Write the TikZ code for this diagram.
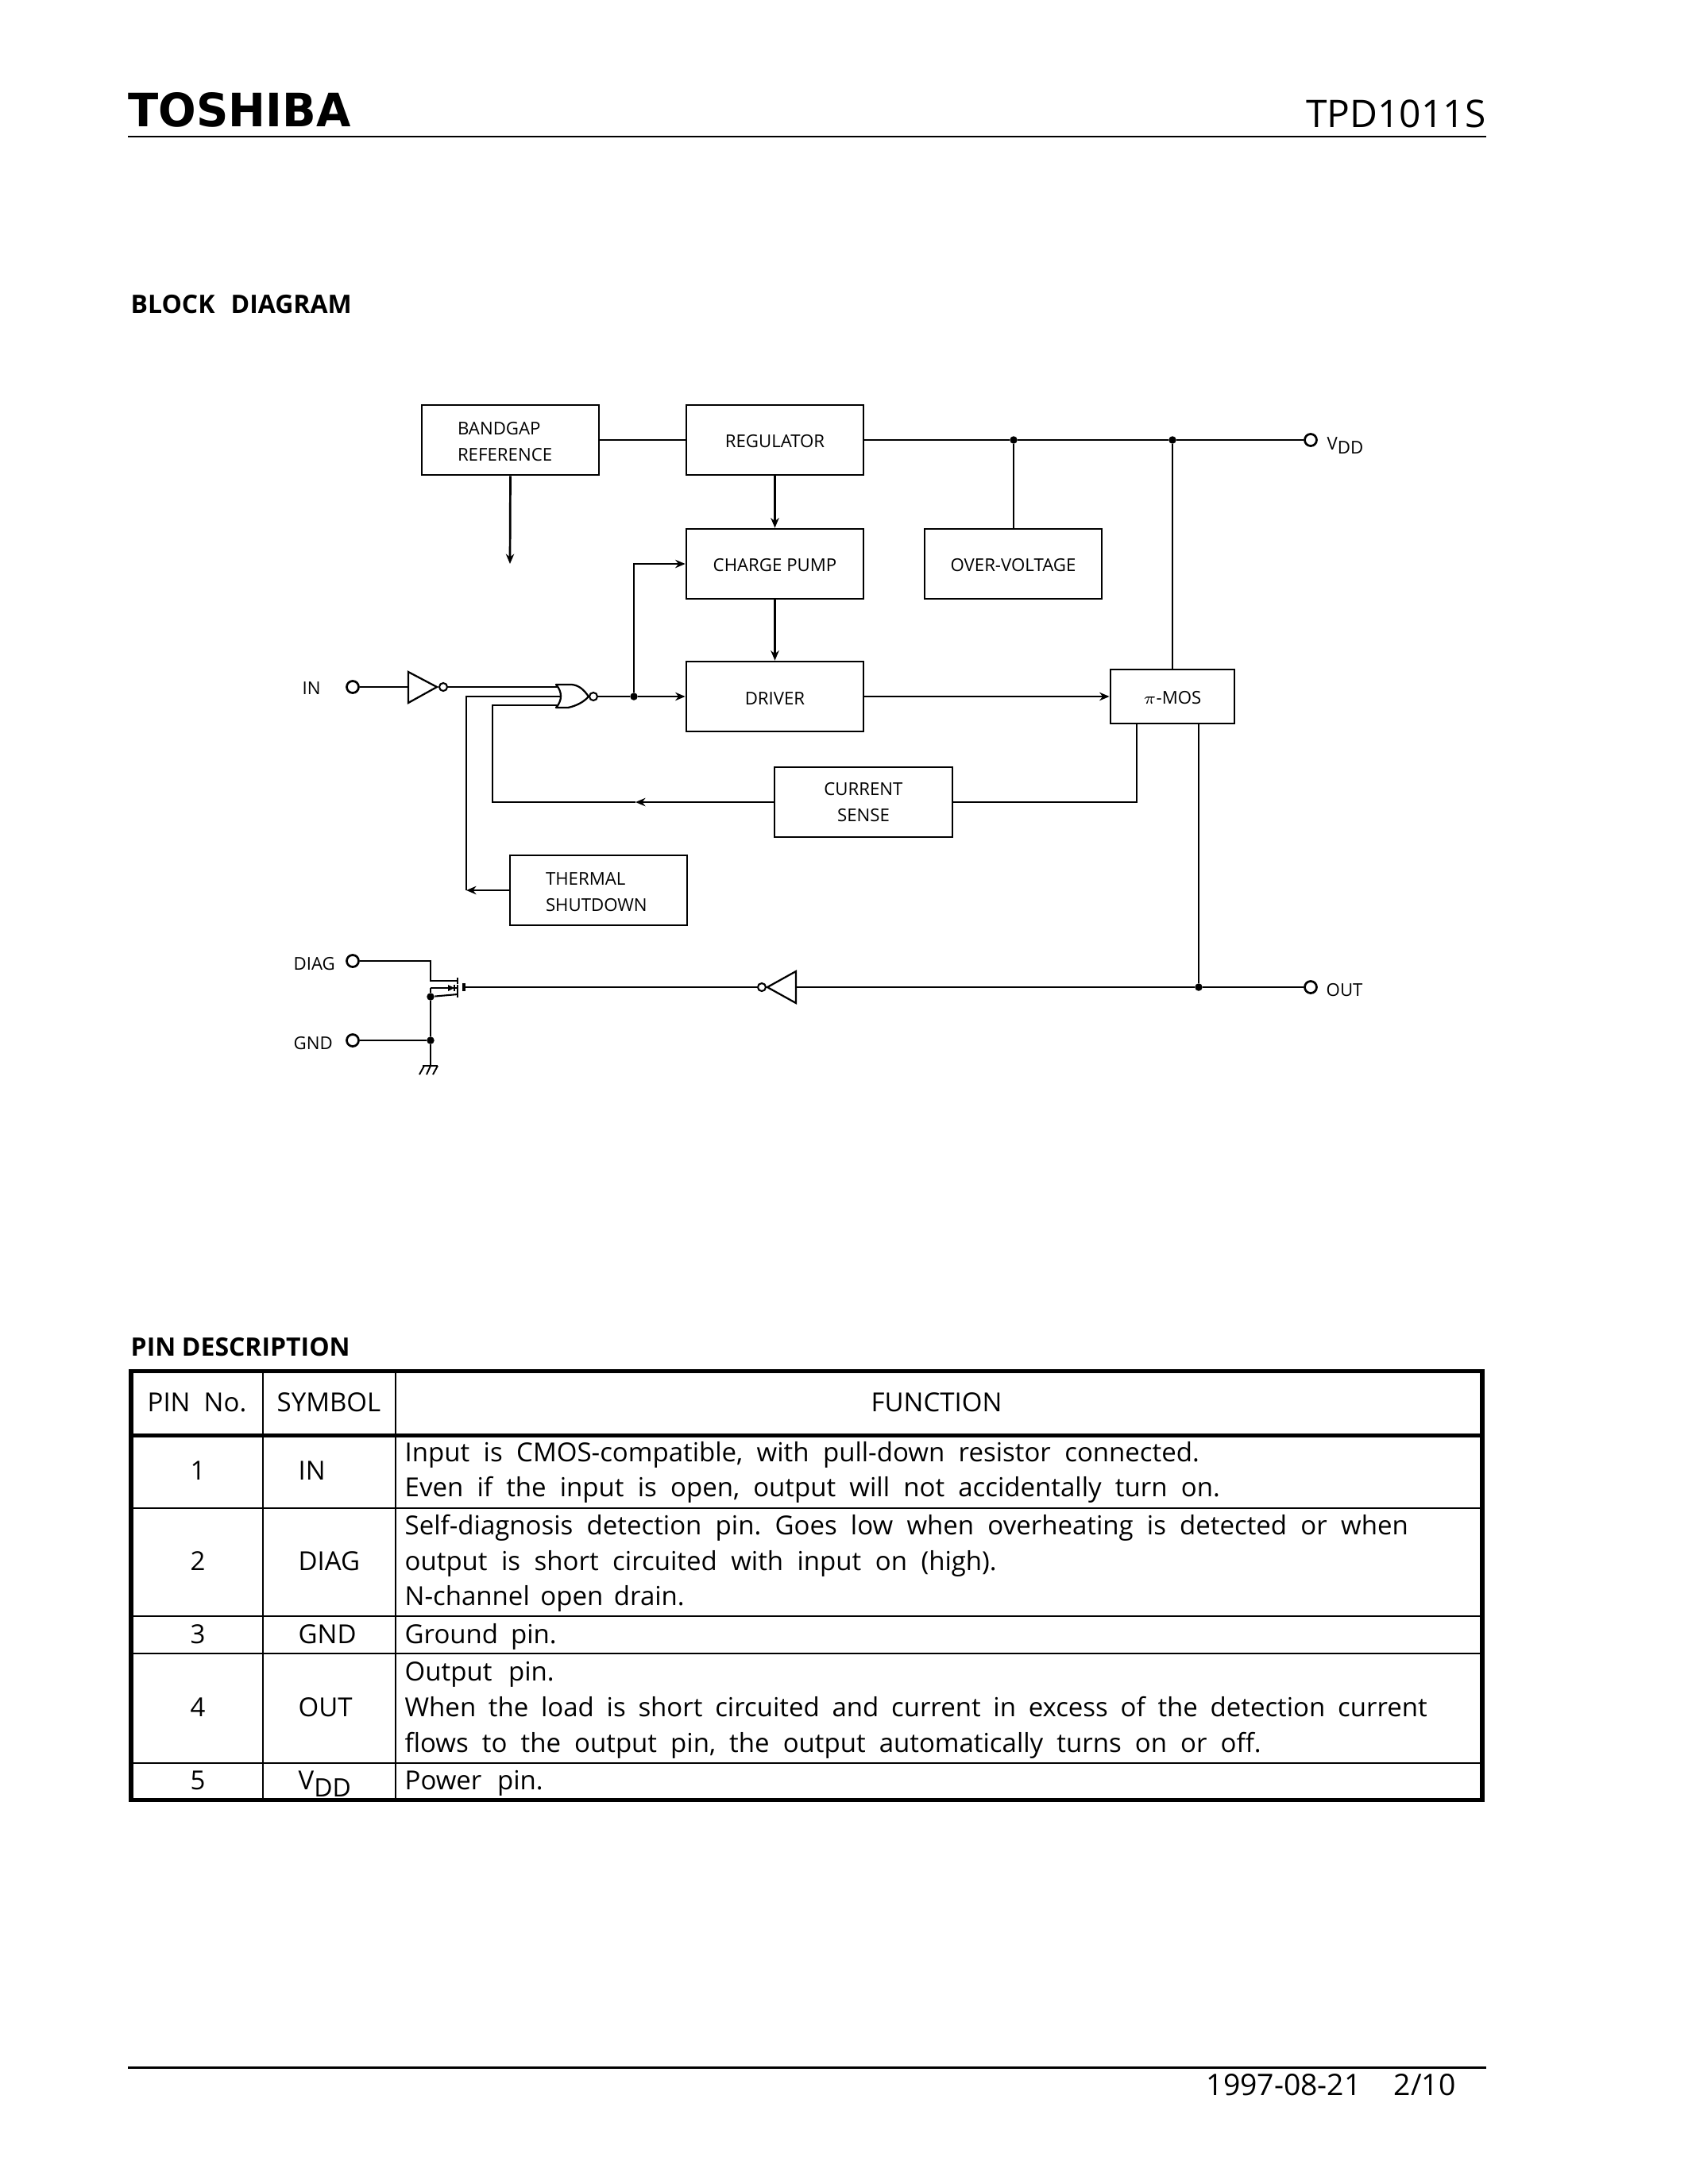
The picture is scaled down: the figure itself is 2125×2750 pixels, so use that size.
\documentclass[tikz,border=0pt]{standalone}
\usepackage{fontspec}
\usepackage{graphicx}
\setmainfont{Open Sans}
\newfontfamily\logofont{DejaVu Sans}
\usetikzlibrary{arrows.meta}
\def\px{0.288pt}
\newdimen\pxd \pxd=0.288pt
\frenchspacing
\newcommand\fit[2]{\makebox[#1\pxd][s]{#2}}
\tikzset{
  wire/.style={line width=0.78pt,line join=miter},
  thinw/.style={line width=0.6pt},
  arrowed/.style={wire,-{Stealth[length=3.6pt,width=3pt]}},
  block/.style={draw,line width=0.78pt,inner sep=0pt,font=\fontsize{6.4pt}{9.5pt}\selectfont,align=center,execute at begin node={\rule{0pt}{5.8pt}}},
  lblock/.style={block,inner xsep=45*\px,align=left,text width=133*\px},
  pin/.style={circle,draw,line width=0.78pt,fill=white,inner sep=0pt,minimum size=15*\px},
  bubble/.style={circle,draw,line width=0.6pt,fill=white,inner sep=0pt,minimum size=10*\px},
  dot/.style={circle,fill=black,inner sep=0pt,minimum size=9.5*\px},
  small/.style={anchor=base west,inner sep=0pt,font=\fontsize{6.4pt}{7pt}\selectfont},
  cell/.style={anchor=base west,inner sep=0pt,font=\fontsize{9.5pt}{11pt}\selectfont},
  ccell/.style={cell,anchor=base},
  outer/.style={line width=1.45pt},
  inner/.style={line width=0.6pt},
  thickrule/.style={line width=0.85pt},
  heading/.style={anchor=base west,inner sep=0pt,font=\fontsize{9.2pt}{10pt}\selectfont\bfseries},
  footer/.style={anchor=base west,inner sep=0pt,font=\fontsize{10.75pt}{12pt}\selectfont},
}
\begin{document}
\begin{tikzpicture}[x=0.288pt,y=-0.288pt]
\useasboundingbox (0,0) rectangle (2125,2750);
% header
\node[anchor=base west,inner sep=0pt] (logo) at (161,159) {\resizebox{280\pxd}{43\pxd}{\fontsize{14pt}{14pt}\selectfont\logofont\bfseries TOSHIBA}};
\node[anchor=base east,inner sep=0pt,font=\fontsize{13.8pt}{14pt}\selectfont] (part) at (1871,160) {TPD1011S};
\coordinate (hl) at (161,172); \coordinate (hr) at (1871,172);
\draw[thickrule] (hl) -- (hr);
\node[heading] (bd) at (164,394) {\fit{278}{BLOCK DIAGRAM}};
% blocks
\node[lblock,minimum width=223*\px,minimum height=88*\px] (bandgap) at (642.5,554) {BANDGAP\\REFERENCE};
\node[block,minimum width=223*\px,minimum height=88*\px] (reg) at (975.5,554) {REGULATOR};
\node[block,minimum width=223*\px,minimum height=88*\px] (cp) at (975.5,710) {CHARGE PUMP};
\node[block,minimum width=223*\px,minimum height=88*\px] (ov) at (1275.5,710) {OVER-VOLTAGE};
\node[block,minimum width=223*\px,minimum height=88*\px] (drv) at (975.5,877) {DRIVER};
\node[block,minimum width=156*\px,minimum height=68*\px] (mos) at (1476,877) {$\pi$-MOS};
\node[block,minimum width=224*\px,minimum height=88*\px] (cs) at (1087,1010) {CURRENT\\SENSE};
\node[lblock,minimum width=223*\px,minimum height=88*\px] (th) at (753.5,1121) {THERMAL\\SHUTDOWN};
% pins
\node[pin] (pIN) at (444,865) {};
\node[pin] (pDIAG) at (444,1210) {};
\node[pin] (pGND) at (444,1310) {};
\node[pin] (pVDD) at (1650,554) {};
\node[pin] (pOUT) at (1650,1243) {};
\node[small] (tIN) at (380,874) {IN};
\node[small] (tDIAG) at (369,1221) {DIAG};
\node[small] (tGND) at (369,1321) {GND};
\node[small] (tOUT) at (1669,1254) {OUT};
\node[small] (tVDD) at (1670,566) {V\raisebox{-0.5ex}{\fontsize{6.4pt}{7pt}\selectfont DD}};
% dots
\node[dot] (dVa) at (1276,554) {};
\node[dot] (dVb) at (1476,554) {};
\node[dot] (dN) at (798,877) {};
\node[dot] (dO) at (1509,1243) {};
\node[dot] (dS) at (542,1255) {};
\node[dot] (dG) at (542,1310) {};
% top connectors
\draw[wire] (bandgap.east) -- (reg.west);
\draw[wire] (reg.east) -- (dVa) -- (dVb) -- (pVDD.west);
\draw[wire] (dVa) -- (ov.north -| dVa);
\draw[wire] (dVb) -- (mos.north -| dVb);
\coordinate (bgend) at (642,710);
\draw[arrowed] (bandgap.south) -- (bgend);
\draw[arrowed] (reg.south) -- (cp.north);
\draw[arrowed] (cp.south) -- (drv.north);
\draw[arrowed] (drv.east) -- (mos.west);
% input inverter
\coordinate (invA) at (514,865);
\coordinate (invT) at (550,865);
\draw[line width=0.65pt,line join=miter] (514,846) -- (invT) -- (514,885) -- cycle;
\node[bubble] (invB) at (558,865) {};
\draw[wire] (pIN.east) -- (invA);
% NOR gate
\coordinate (orA) at (703,865);
\coordinate (orB) at (706,877);
\coordinate (orC) at (703,888);
\draw[line width=0.65pt,line join=round] (700,862) -- (720,862) .. controls (730,863) and (736,870) .. (741,877) .. controls (735,884) and (725,889) .. (715,891) -- (700,891) .. controls (708,882) and (708,871) .. cycle;
\node[bubble] (orB2) at (747,877) {};
\draw[wire] (invB.east) -- (orA);
\draw[wire] (orB2.east) -- (dN);
\draw[arrowed] (dN) -- (drv.west);
\coordinate (cpin) at (798,710);
\draw[arrowed] (dN) -- (cpin) -- (cp.west);
% current sense
\coordinate (csarrow) at (800,1010);
\coordinate (csl) at (620,1010);
\coordinate (csi) at (620,888);
\draw[arrowed] (cs.west) -- (csarrow);
\draw[wire] (csarrow) -- (csl) -- (csi) -- (orC);
\coordinate (mosa) at (1431,911);
\coordinate (mosc) at (1431,1010);
\draw[wire] (mosa) -- (mosc) -- (cs.east);
% thermal
\coordinate (tha) at (587,1121);
\coordinate (thb) at (587,877);
\draw[arrowed] (th.west) -- (tha);
\draw[wire] (tha) -- (thb) -- (orB);
% output
\coordinate (mosb) at (1509,911);
\draw[wire] (mosb) -- (dO);
\draw[wire] (dO) -- (pOUT.west);
\coordinate (inv2A) at (1002,1243);
\draw[line width=0.65pt,line join=miter] (1002,1223) -- (966,1243) -- (1002,1263) -- cycle;
\node[bubble] (inv2B) at (959,1243) {};
\draw[wire] (dO) -- (inv2A);
% MOSFET
\coordinate (gatebar) at (584,1243);
\draw[wire] (inv2B.west) -- (gatebar);
\draw[line width=1.3pt] (584,1238) -- (584,1248);
\coordinate (dr) at (576,1235);
\coordinate (so) at (576,1252);
\coordinate (bo) at (576,1244);
\coordinate (dc) at (542,1210);
\coordinate (dd) at (542,1235);
\coordinate (be) at (542,1244);
\draw[wire] (pDIAG.east) -- (dc) -- (dd) -- (dr);
\draw[thinw] (be) -- (bo);
\draw[wire] (be) -- (dS);
\draw[thinw] (dS) -- (so);
\draw[line width=0.6pt] (576,1231) -- (576,1239) (576,1240) -- (576,1248) (576,1248) -- (576,1256);
\fill (564,1240) -- (572,1244) -- (564,1248) -- cycle;
\draw[line width=0.5pt] (572,1240) -- (572,1248);
\coordinate (gn) at (542,1342);
\draw[wire] (dS) -- (dG) -- (gn);
\draw[wire] (pGND.east) -- (dG);
\draw[wire] (532,1342) -- (551,1342);
\draw[line width=0.55pt] (534,1342) -- (528,1353) (542,1342) -- (537,1353) (551,1342) -- (545,1353);
% table
\node[heading] (pd) at (164,1707) {\fit{276}{PIN DESCRIPTION}};
\draw[outer] (165,1726) rectangle (1866,2266);
\draw[outer] (165,1807) -- (1866,1807);
\foreach \yy in {1899,2035,2082,2220} \draw[inner] (165,\yy) -- (1866,\yy);
\draw[inner] (331,1726) -- (331,2266);
\draw[inner] (498,1726) -- (498,2266);
\node[ccell] (h1) at (248,1777) {PIN\ \ No.};
\node[ccell] (h2) at (414,1777) {SYMBOL};
\node[ccell] (h3) at (1179,1777) {FUNCTION};
\node[ccell] (n1) at (249,1863) {1};
\node[ccell] (n2) at (249,1977) {2};
\node[ccell] (n3) at (249,2069) {3};
\node[ccell] (n4) at (249,2161) {4};
\node[ccell] (n5) at (249,2253) {5};
\node[cell] (s1) at (375,1863) {IN};
\node[cell] (s2) at (375,1977) {DIAG};
\node[cell] (s3) at (375,2069) {GND};
\node[cell] (s4) at (375,2161) {OUT};
\node[cell] (s5) at (375,2253) {V\raisebox{-0.55ex}{\fontsize{9.2pt}{10pt}\selectfont DD}};
\node[cell] (f1) at (509,1840) {\fit{1000}{Input is CMOS-compatible, with pull-down resistor connected.}};
\node[cell] (f2) at (509,1884) {\fit{1026}{Even if the input is open, output will not accidentally turn on.}};
\node[cell] (f3) at (509,1932) {\fit{1263}{Self-diagnosis detection pin. Goes low when overheating is detected or when}};
\node[cell] (f4) at (509,1977) {\fit{745}{output is short circuited with input on (high).}};
\node[cell] (f5) at (509,2021) {\fit{352}{N-channel open drain.}};
\node[cell] (f6) at (509,2069) {\fit{191}{Ground pin.}};
\node[cell] (f7) at (509,2116) {\fit{188}{Output pin.}};
\node[cell] (f8) at (509,2161) {\fit{1287}{When the load is short circuited and current in excess of the detection current}};
\node[cell] (f9) at (509,2206) {\fit{1078}{flows to the output pin, the output automatically turns on or off.}};
\node[cell] (f10) at (509,2253) {\fit{174}{Power pin.}};
% footer
\coordinate (fl) at (161,2603); \coordinate (fr) at (1871,2603);
\draw[thickrule] (fl) -- (fr);
\node[footer] (date) at (1518,2638) {1997-08-21};
\node[footer] (pg) at (1754,2638) {2/10};
\end{tikzpicture}
\end{document}
